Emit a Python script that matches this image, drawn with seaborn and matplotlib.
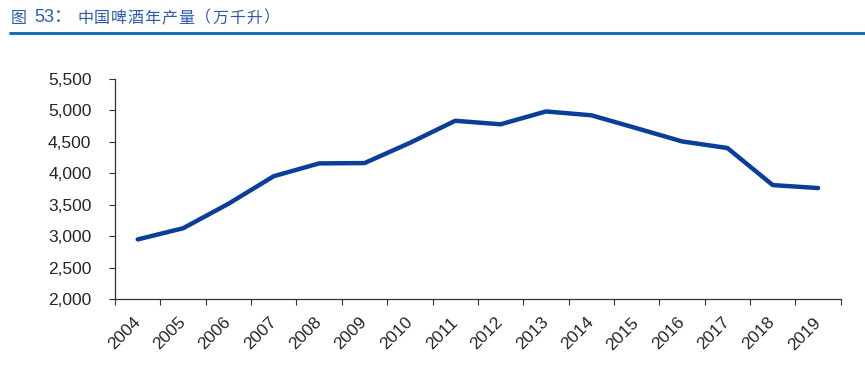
import seaborn as sns
import matplotlib.pyplot as plt
import pandas as pd
from matplotlib.ticker import FixedLocator, FuncFormatter

sns.set_style("white")
plt.rcParams['font.family'] = ['Liberation Sans', 'Noto Sans CJK SC', 'DejaVu Sans']

years = [str(y) for y in range(2004, 2020)]
output = [2948.6, 3126.1, 3515.1, 3954.1, 4156.9, 4162.2, 4483.0, 4834.5,
          4778.6, 4982.8, 4921.9, 4715.7, 4506.4, 4401.5, 3812.2, 3765.3]
title_num = "53："
title_txt = "中国啤酒年产量（万千升）"

df = pd.DataFrame({"year": years, "output": output})

W, H = 865, 367
fig = plt.figure(figsize=(W / 100, H / 100), dpi=100)
ax = fig.add_axes([0.133, 0.185, 0.839, 0.600])

sns.lineplot(data=df, x="year", y="output", ax=ax, color="#0A3F99", linewidth=3.2,
             sort=False)

ax.set_xlim(-0.5, len(years) - 0.5)
ax.set_ylim(2000, 5500)
ax.set_yticks(range(2000, 5501, 500))
ax.yaxis.set_major_formatter(FuncFormatter(lambda v, p: f"{int(v):,}"))
ax.set_xticks(range(len(years)))
ax.set_xticklabels(years, rotation=45, ha="right", va="center", rotation_mode="anchor")
ax.xaxis.set_minor_locator(FixedLocator([i - 0.5 for i in range(len(years) + 1)]))
ax.tick_params(axis="x", which="major", length=0, pad=15, labelsize=12.5)
ax.tick_params(axis="x", which="minor", length=4, width=0.8, color="#333333", direction="out", bottom=True)
ax.tick_params(axis="y", length=4, width=0.8, color="#333333", direction="out", left=True, labelsize=12.5, pad=13)
ax.set_xlabel("")
ax.set_ylabel("")
ax.grid(False)
for s in ["top", "right"]:
    ax.spines[s].set_visible(False)
for s in ["left", "bottom"]:
    ax.spines[s].set_color("#333333")
    ax.spines[s].set_linewidth(0.9)

# title with wide letter spacing, then the blue rule
tcol = "#2A5CAA"
ty = 1 - 18 / H
fig.text(11 / W, ty, "图", color=tcol, fontsize=11.5, va="center", ha="left")
fig.text(34 / W, ty, title_num, color=tcol, fontsize=13, va="center", ha="left")
for i, ch in enumerate(title_txt):
    fig.text((77 + i * 16.9) / W, ty, ch, color=tcol, fontsize=11.5, va="center", ha="left")
fig.add_artist(plt.Line2D([10 / W, 1.0], [1 - 33 / H, 1 - 33 / H], color="#1A6FBF", linewidth=2.2))

fig.savefig("out.png", dpi=100)
